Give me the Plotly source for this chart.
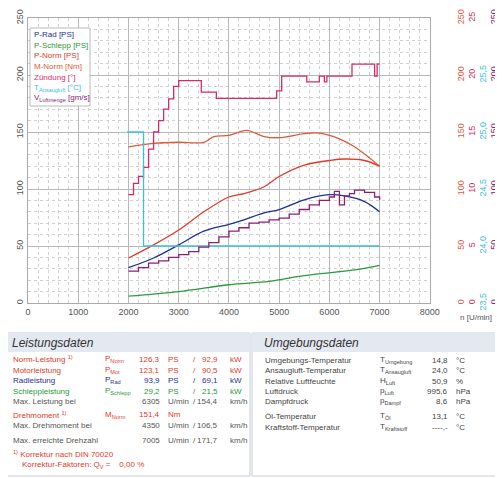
import plotly.graph_objects as go

rpm_m = [2000,2500,3000,3500,3700,4000,4350,4700,5000,5500,5800,6200,6500,7000]
m_norm = [137,140,141,141,146,147,151.4,146,145,148.5,149,144,137,120]
rpm_p = [2000,2500,3000,3500,4000,4300,4700,5000,5500,6000,6300,6700,7000]
p_norm = [39.5,51,64,80,93,96,102,111,121,125,126.3,125,120]
p_rad = [31,39.5,51,63,69,73,79,82,90.5,95,93.9,89,80]
rpm_s = [2000,3000,4000,4800,5500,6500,7000]
p_schlepp = [6,10,16,19,24,29,33]
rpm_v = [2000,2200,2400,2600,2800,3000,3200,3400,3600,3800,4000,4200,4400,4600,4800,5000,5200,5400,5600,5800,6000,6100,6200,6300,6400,6500,6700,6900,7000]
v_luft = [28,31,35,37,40,42.5,45,49,53,58,63,66,70,71,73,74.5,78,82,86,90,93,98,86,94,96,99,97,93,90.5]
rpm_z = [2000,2100,2200,2300,2400,2500,2600,2700,2800,2900,3000,3450,3750,4950,5050,5550,5800,5900,5950,6450,6900,6950,7000]
zuendung = [9.5,10.5,11.1,11.9,13.5,15.0,16.0,17.0,17.9,19.0,19.5,18.5,17.95,18.6,19.9,19.4,19.9,19.4,19.9,20.95,19.9,20.95,20.95]
rpm_t = [1970,2300,7000]
t_ansaug = [25.0,24.0,24.0]

C_RAD="#1f2f8f"; C_SCH="#2a9a3a"; C_PN="#e03a2a"; C_MN="#e05a3a"; C_Z="#d42a6a"; C_T="#3cc0dc"; C_V="#8a2070"

fig = go.Figure()
def tr(x,y,name,c,ax="y",shape="linear"):
    fig.add_trace(go.Scatter(x=x,y=y,name=name,yaxis=ax,mode="lines",
        line=dict(color=c,width=1.3,shape=shape)))
tr(rpm_p,p_rad,"P-Rad [PS]",C_RAD,shape="spline")
tr(rpm_s,p_schlepp,"P-Schlepp [PS]",C_SCH,shape="spline")
tr(rpm_p,p_norm,"P-Norm [PS]",C_PN,shape="spline")
tr(rpm_m,m_norm,"M-Norm [Nm]",C_MN,"y2",shape="spline")
tr(rpm_z,zuendung,"Zündung [°]",C_Z,"y3",shape="hv")
tr(rpm_t,t_ansaug,"T<sub>Ansaugluft</sub> [°C]",C_T,"y4",shape="hv")
tr(rpm_v,v_luft,"V<sub>Luftmenge</sub> [gm/s]",C_V,"y5",shape="hv")

grid=dict(showgrid=True,gridcolor="#b8b8b8",gridwidth=1,
          minor=dict(showgrid=True,gridcolor="#d0d0d0",griddash="dot"))
dom=[0,0.855]
fig.update_layout(width=495,height=470,margin=dict(l=20,r=5,t=10,b=175,autoexpand=False),
    paper_bgcolor="white",plot_bgcolor="white",
    font=dict(family="Liberation Sans",size=9,color="#555"),
    showlegend=False,
    xaxis=dict(domain=dom,range=[0,8000],dtick=1000,**grid,minor_dtick=200,
        zeroline=False,showline=True,linecolor="#aaa",mirror=True,tickfont=dict(size=9)),
    yaxis=dict(range=[0,250],dtick=50,**grid,minor_dtick=10,tickangle=-90,
        zeroline=False,showline=True,linecolor="#aaa",mirror=True),
)
def rax(pos,rng,dt,c,fmt=None):
    d=dict(overlaying="y",side="right",anchor="free",position=pos,range=rng,dtick=dt,
        showgrid=False,zeroline=False,showline=False,tickangle=-90,
        tickfont=dict(color=c,size=9),ticks="",tick0=rng[0])
    if fmt: d["tickformat"]=fmt
    return d
fig.update_layout(yaxis2=rax(0.907,[0,250],50,C_MN),yaxis3=rax(0.930,[0,25],5,C_Z),
    yaxis4=rax(0.954,[23.5,26.0],0.5,C_T,".1f"),yaxis5=rax(0.977,[0,250],50,C_V),
    separators=", ")

def px(x): return (x-28)/470
def py(y): return (303-y)/285
ann=[]
def t(x,y,s,c="#555",al="left",sz=8):
    ann.append(dict(x=px(x),y=py(y),xref="paper",yref="paper",text=s,showarrow=False,
        xanchor=al,yanchor="middle",font=dict(color=c,size=sz,family="Liberation Sans")))
t(476,317,"n [U/min]","#555","center",8)
shapes=[]
shapes.append(dict(type="rect",xref="paper",yref="paper",x0=px(30),x1=px(90),y0=py(106),y1=py(28),line=dict(color="#bbb",width=1),fillcolor="white"))
leg=[("P-Rad [PS]",C_RAD),("P-Schlepp [PS]",C_SCH),("P-Norm [PS]",C_PN),("M-Norm [Nm]",C_MN),
     ("Zündung [°]",C_Z),("T<sub>Ansaugluft</sub> [°C]",C_T),("V<sub>Luftmenge</sub> [gm/s]",C_V)]
for i,(s,c) in enumerate(leg):
    t(32,35+i*10.5,s,c,sz=8)
for x0,x1 in [(2,250),(252,501)]:
    shapes.append(dict(type="rect",xref="paper",yref="paper",x0=px(x0),x1=px(x1),y0=py(476),y1=py(333),line=dict(color="#c8ccd8",width=1),fillcolor="white"))
    shapes.append(dict(type="rect",xref="paper",yref="paper",x0=px(x0),x1=px(x1),y0=py(352),y1=py(333),line=dict(width=0),fillcolor="#e4e8f0"))
t(10,343,"<i>Leistungsdaten</i>","#333",sz=12)
t(262,343,"<i>Umgebungsdaten</i>","#333",sz=12)
R="#e03a2a";B="#1f2f8f";G="#2a9a3a";K="#555"
rows=[(359,"Norm-Leistung <sup>1)</sup>","P<sub>Norm</sub>","126,3","PS","92,9","kW",R),
      (370,"Motorleistung","P<sub>Mot</sub>","123,1","PS","90,5","kW",R),
      (380,"Radleistung","P<sub>Rad</sub>","93,9","PS","69,1","kW",B),
      (391,"Schleppleistung","P<sub>Schlepp</sub>","29,2","PS","21,5","kW",G),
      (401,"Max. Leistung bei","","6305","U/min","154,4","km/h",K),
      (425,"Max. Drehmoment bei","","4350","U/min","106,5","km/h",K),
      (440,"Max. erreichte Drehzahl","","7005","U/min","171,7","km/h",K)]
for y,l,s,v,u,v2,u2,c in rows:
    t(11,y,l,c); t(103,y,s,c); t(162,y,v,c,"right"); t(166,y,u,c)
    t(194,y,"/",c,"center"); t(220,y,v2,c,"right"); t(228,y,u2,c)
t(11,415,"Drehmoment <sup>1)</sup>",R); t(103,415,"M<sub>Norm</sub>",R); t(162,415,"151,4",R,"right"); t(166,415,"Nm",R)
t(11,454,"<sup>1)</sup> Korrektur nach DIN 70020",R)
t(20,465,"Korrektur-Faktoren: Q<sub>V</sub> =    0,00 %",R)
env=[(360,"Umgebungs-Temperatur","T<sub>Umgebung</sub>","14,8","°C"),
     (370,"Ansaugluft-Temperatur","T<sub>Ansaugluft</sub>","24,0","°C"),
     (381,"Relative Luftfeuchte","H<sub>Luft</sub>","50,9","%"),
     (391,"Luftdruck","p<sub>Luft</sub>","995,6","hPa"),
     (401,"Dampfdruck","p<sub>Dampf</sub>","8,6","hPa"),
     (416,"Öl-Temperatur","T<sub>Öl</sub>","13,1","°C"),
     (427,"Kraftstoff-Temperatur","T<sub>Kraftstoff</sub>","----,-","°C")]
for y,l,s,v,u in env:
    t(263,y,l,"#444"); t(378,y,s,"#444"); t(450,y,v,"#444","right"); t(454,y,u,"#444")
fig.update_layout(annotations=ann,shapes=shapes)
fig.write_html("out.html")
